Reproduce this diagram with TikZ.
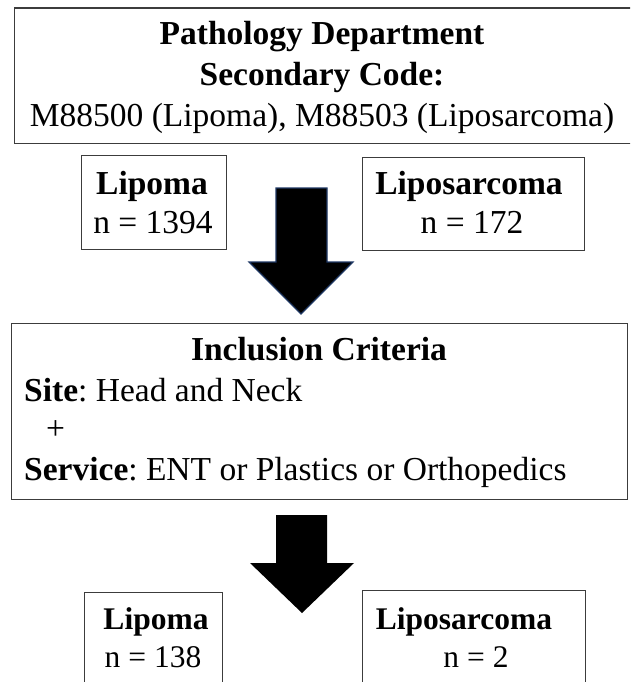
\documentclass[tikz,border=0pt]{standalone}
\usepackage{fontspec}
\setmainfont{Liberation Serif}
\definecolor{boxline}{RGB}{60,60,60}
\definecolor{arrowedge}{RGB}{31,56,100}
\begin{document}
\frenchspacing
\begin{tikzpicture}[x=1pt,y=-1pt,
  box/.style={draw=boxline, line width=1.3pt, rectangle, inner sep=0pt, anchor=north west},
  lbl/.style={anchor=base, inner sep=0pt, font=\fontsize{33.5}{40}\selectfont},
  lbls/.style={anchor=base, inner sep=0pt, font=\fontsize{31.5}{38}\selectfont},
  lbll/.style={anchor=base west, inner sep=0pt, font=\fontsize{33.5}{40}\selectfont},
  blockarrow/.style={fill=black}
]
\useasboundingbox (0,0) rectangle (630,682);
\clip (0,0) rectangle (630,682);
% boxes
\node[box, minimum width=619pt, minimum height=135pt] (top) at (13.5,7.5) {};
\node[box, minimum width=145pt, minimum height=94pt] (lipA) at (81,155) {};
\node[box, minimum width=222pt, minimum height=93pt] (lsA) at (362,157) {};
\node[box, minimum width=616pt, minimum height=176pt] (incl) at (11,323) {};
\node[box, minimum width=138pt, minimum height=120pt] (lipB) at (84,592) {};
\node[box, minimum width=223pt, minimum height=120pt] (lsB) at (362,590) {};
% texts
\node[lbl] (t1) at (322,45) {\textbf{Pathology Department}};
\node[lbl] (t2) at (322,86) {\textbf{Secondary Code:}};
\node[lbl] (t3) at (322,127) {M88500 (Lipoma), M88503 (Liposarcoma)};
\node[lbl] (a1) at (152,194) {\textbf{Lipoma}};
\node[lbl] (a2) at (153,233) {n = 1394};
\node[lbl] (b1) at (469,194) {\textbf{Liposarcoma}};
\node[lbl] (b2) at (472,233) {n = 172};
\node[lbl] (i1) at (319,360) {\textbf{Inclusion Criteria}};
\node[lbll] (i2) at (24,401) {\textbf{Site}: Head and Neck};
\node[lbll] (i3) at (46,439) {+};
\node[lbll] (i4) at (24,480) {\textbf{Service}: ENT or Plastics or Orthopedics};
\node[lbls] (c1) at (156,629) {\textbf{Lipoma}};
\node[lbls] (c2) at (153,667) {n = 138};
\node[lbls] (d1) at (464,629) {\textbf{Liposarcoma}};
\node[lbls] (d2) at (476,667) {n = 2};
% block arrows
\draw[blockarrow, draw=arrowedge, line width=1.2pt]
  (276,188) -- (327,188) -- (327,262) -- (353,262) -- (301,314) -- (249,262) -- (276,262) -- cycle;
\fill[black]
  (276,515) -- (327,515) -- (327,563) -- (354,563) -- (302,613) -- (250,563) -- (276,563) -- cycle;
\end{tikzpicture}
\end{document}
